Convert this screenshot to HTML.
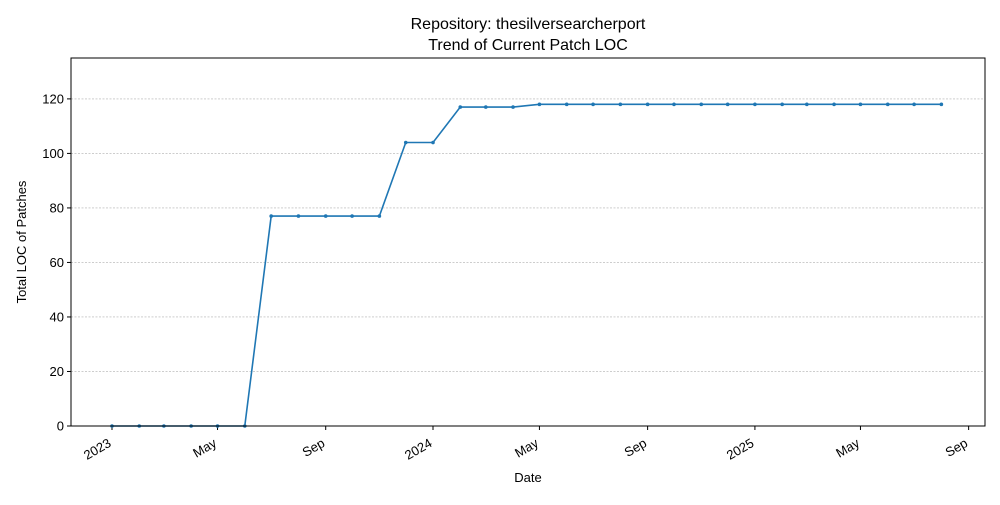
<!DOCTYPE html>
<html><head><meta charset="utf-8"><style>
body{margin:0;background:#fff;font-family:"Liberation Sans",sans-serif}
text{font-family:"Liberation Sans",sans-serif;fill:#000}
</style></head><body>
<svg id="chart" width="1000" height="500" xmlns="http://www.w3.org/2000/svg">
<text x="528" y="29" font-size="16" text-anchor="middle">Repository: thesilversearcherport</text>
<text x="528" y="50" font-size="16" text-anchor="middle">Trend of Current Patch LOC</text>
<g id="grid"></g>
<g id="axes"></g>
<g id="series"></g>
<rect x="71" y="58" width="914" height="368" fill="none" stroke="#000" stroke-width="1"/>
<text x="528" y="482" font-size="13" text-anchor="middle">Date</text>
<text x="26" y="242" font-size="13" text-anchor="middle" transform="rotate(-90 26 242)">Total LOC of Patches</text>
</svg>
<script>
const months = ["2023-01","2023-02","2023-03","2023-04","2023-05","2023-06","2023-07","2023-08","2023-09","2023-10","2023-11","2023-12","2024-01","2024-02","2024-03","2024-04","2024-05","2024-06","2024-07","2024-08","2024-09","2024-10","2024-11","2024-12","2025-01","2025-02","2025-03","2025-04","2025-05","2025-06","2025-07","2025-08"];
const locValues = [0,0,0,0,0,0,77,77,77,77,77,104,104,117,117,117,118,118,118,118,118,118,118,118,118,118,118,118,118,118,118,118];
const yTicks = [0,20,40,60,80,100,120];
const xTickDates = ["2023-01-01","2023-05-01","2023-09-01","2024-01-01","2024-05-01","2024-09-01","2025-01-01","2025-05-01","2025-09-01"];
const xTickLabels = ["2023","May","Sep","2024","May","Sep","2025","May","Sep"];

const NS="http://www.w3.org/2000/svg";
const base=Date.UTC(2023,0,1);
function days(s){const p=s.split("-");return (Date.UTC(+p[0],+p[1]-1,+(p[2]||1))-base)/864e5;}
const L=71,R=985,T=58,B=426,dMin=-46.6,dMax=992.6,yMax=135;
function xs(s){return L+(days(s)-dMin)/(dMax-dMin)*(R-L);}
function ys(v){return B-v/yMax*(B-T);}
function mk(tag,attrs,parent){const e=document.createElementNS(NS,tag);for(const k in attrs)e.setAttribute(k,attrs[k]);parent.appendChild(e);return e;}
const grid=document.getElementById("grid"),axes=document.getElementById("axes"),series=document.getElementById("series");
yTicks.forEach(v=>{
  const y=ys(v);
  const g=mk("line",{x1:L,x2:R,y1:y,y2:y,stroke:"#b0b0b0","stroke-width":0.6,"stroke-dasharray":"2,1.5"},grid);
  
  
  const t=mk("line",{x1:L-4,x2:L,y1:y,y2:y,stroke:"#000"},axes);
  
  
  const tx=mk("text",{x:L-7,y:y+4.5,"font-size":13,"text-anchor":"end"},axes);
  tx.textContent=v;
  
  
});
xTickDates.forEach((d,i)=>{
  const x=xs(d);
  const t=mk("line",{x1:x,x2:x,y1:B,y2:B+4,stroke:"#000"},axes);
  
  
  const tx=mk("text",{x:0,y:10,"font-size":13,"text-anchor":"end",transform:`translate(${x-5} ${B+11}) rotate(-30)`},axes);
  tx.textContent=xTickLabels[i];
  
  
});
const pts=months.map((m,i)=>xs(m)+","+ys(locValues[i])).join(" ");
const line=mk("polyline",{points:pts,fill:"none",stroke:"#1f77b4","stroke-width":1.6},series);


months.forEach((m,i)=>{
  const c=mk("circle",{cx:xs(m),cy:ys(locValues[i]),r:1.8,fill:"#1f77b4"},series);
  
  
});
</script>
</body></html>
